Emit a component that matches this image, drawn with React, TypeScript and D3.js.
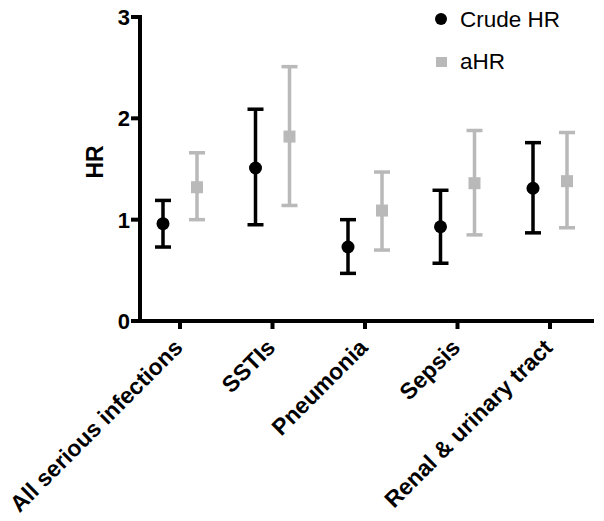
import React from "react";
import * as d3 from "d3";

const categories = ["All serious infections", "SSTIs", "Pneumonia", "Sepsis", "Renal & urinary tract"];
const crudeHR = [0.96, 1.51, 0.73, 0.93, 1.31];
const crudeLow = [0.73, 0.95, 0.47, 0.57, 0.87];
const crudeHigh = [1.19, 2.09, 1.0, 1.29, 1.76];
const aHR = [1.32, 1.82, 1.09, 1.36, 1.38];
const aLow = [1.0, 1.14, 0.7, 0.85, 0.92];
const aHigh = [1.66, 2.51, 1.47, 1.88, 1.86];
const yTicks = [0, 1, 2, 3];
const seriesNames = ["Crude HR", "aHR"];

const W = 604;
const H = 521;
const BLACK = "#000000";
const GRAY = "#b9b9b9";
const FONT = "'Liberation Sans', Arial, Helvetica, sans-serif";

export default function App() {
  const x = d3.scalePoint<string>().domain(categories).range([180, 550]);
  const y = d3.scaleLinear().domain([0, 3]).range([321, 17]);
  const off = 17;
  const cap = 8;

  const series = [
    { name: seriesNames[0], v: crudeHR, lo: crudeLow, hi: crudeHigh, color: BLACK, dx: -off, shape: "circle" },
    { name: seriesNames[1], v: aHR, lo: aLow, hi: aHigh, color: GRAY, dx: off, shape: "square" },
  ];

  return (
    <svg width={W} height={H} style={{ position: "absolute", left: 0, top: 0, background: "#fff" }} fontFamily={FONT}>
      {/* y axis */}
      <line x1={140} x2={140} y1={y(3) - 2} y2={y(0) + 2} stroke={BLACK} strokeWidth={4} />
      {yTicks.map((t) => (
        <g key={t}>
          <line x1={131} x2={140} y1={y(t)} y2={y(t)} stroke={BLACK} strokeWidth={4} />
          <text x={130} y={y(t)} dy="0.36em" textAnchor="end" fontSize={22} fontWeight="bold">
            {t}
          </text>
        </g>
      ))}
      <text
        transform={`translate(${103},${162}) rotate(-90)`}
        textAnchor="middle"
        fontSize={23}
        fontWeight="bold"
      >
        HR
      </text>
      {/* x axis */}
      <line x1={138} x2={594} y1={y(0)} y2={y(0)} stroke={BLACK} strokeWidth={4} />
      {categories.map((c) => (
        <g key={c}>
          <line x1={x(c)} x2={x(c)} y1={y(0)} y2={y(0) + 8} stroke={BLACK} strokeWidth={4} />
          <text
            transform={`translate(${(x(c) as number) + 4},${y(0) + 28}) rotate(-45)`}
            textAnchor="end"
            fontSize={23}
            fontWeight="bold"
          >
            {c}
          </text>
        </g>
      ))}
      {/* error bars and points */}
      {series.map((s) =>
        categories.map((c, i) => {
          const cx = (x(c) as number) + s.dx;
          return (
            <g key={s.name + c}>
              <line x1={cx} x2={cx} y1={y(s.lo[i])} y2={y(s.hi[i])} stroke={s.color} strokeWidth={3.5} />
              <line x1={cx - cap} x2={cx + cap} y1={y(s.lo[i])} y2={y(s.lo[i])} stroke={s.color} strokeWidth={3.5} />
              <line x1={cx - cap} x2={cx + cap} y1={y(s.hi[i])} y2={y(s.hi[i])} stroke={s.color} strokeWidth={3.5} />
              {s.shape === "circle" ? (
                <circle cx={cx} cy={y(s.v[i])} r={6.5} fill={s.color} />
              ) : (
                <rect x={cx - 6} y={y(s.v[i]) - 6} width={12} height={12} fill={s.color} />
              )}
            </g>
          );
        })
      )}
      {/* legend */}
      <circle cx={441} cy={19} r={6} fill={BLACK} />
      <text x={460} y={27} fontSize={22.5}>
        {seriesNames[0]}
      </text>
      <rect x={436} y={57} width={11} height={10} fill={GRAY} />
      <text x={460} y={69} fontSize={22.5}>
        {seriesNames[1]}
      </text>
    </svg>
  );
}
